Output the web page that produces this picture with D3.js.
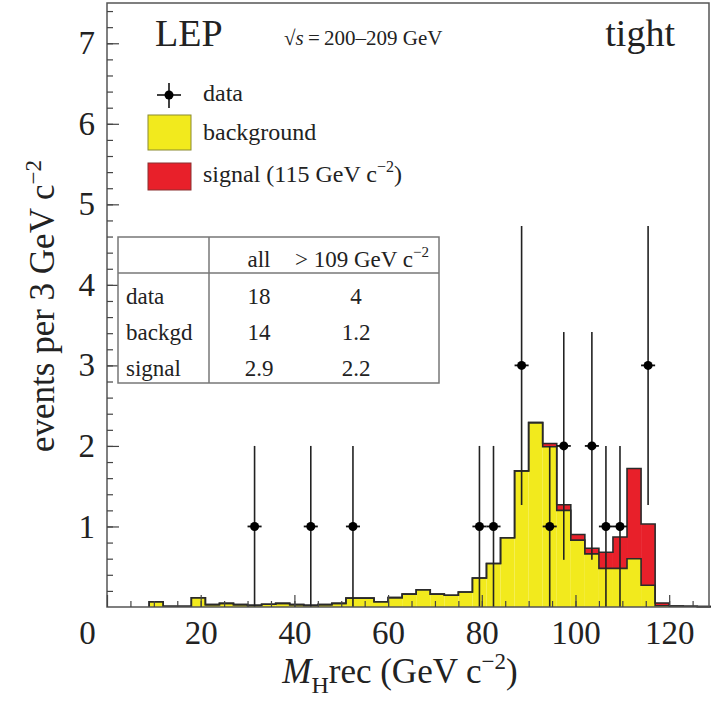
<!DOCTYPE html>
<html>
<head>
<meta charset="utf-8">
<script src="https://cdn.jsdelivr.net/npm/d3@7"></script>
<style>
  body { margin: 0; background: #fff; }
  text { font-family: "Liberation Serif", "Times New Roman", serif; fill: #222; }
</style>
</head>
<body>
<svg width="711" height="712"></svg>
<script>
// histogram binning (GeV)
var binStart = 9, binWidth = 3;

// expected background per 3 GeV bin, starting at 9 GeV
var background = [0.066, 0.01, 0.01, 0.115, 0.03, 0.045, 0.03, 0.02, 0.035, 0.045,
  0.03, 0.02, 0.03, 0.045, 0.11, 0.11, 0.066, 0.116, 0.16, 0.215,
  0.16, 0.145, 0.186, 0.36, 0.54, 0.86, 1.69, 2.29, 1.99, 1.2,
  0.83, 0.66, 0.48, 0.48, 0.60, 0.27, 0.015, 0.012, 0.01, 0.005];

// expected signal (115 GeV) per bin, same binning
var signal = [0, 0, 0, 0, 0, 0, 0, 0, 0, 0,
  0, 0, 0, 0, 0, 0, 0, 0, 0, 0,
  0, 0, 0, 0, 0, 0, 0, 0, 0.04, 0.07,
  0.07, 0.07, 0.2, 0.39, 1.12, 0.76, 0.035, 0, 0, 0];

// observed candidates
var dataMass = [31.5, 43.5, 52.5, 79.5, 82.5, 88.5, 94.5, 97.5, 103.5, 106.5, 109.5, 115.5];
var dataCounts = [1, 1, 1, 1, 1, 3, 1, 2, 2, 1, 1, 3];

var xTicks = [0, 20, 40, 60, 80, 100, 120];
var yTicks = [1, 2, 3, 4, 5, 6, 7];

// summary table
var tableRows = ["data", "backgd", "signal"];
var tableAll = ["18", "14", "2.9"];
var tableHigh = ["4", "1.2", "2.2"];

var svg = d3.select("svg");

var x = d3.scaleLinear().domain([0, 128.5]).range([107, 709]),
  y = d3.scaleLinear().domain([0, 7.5]).range([607, 3]);

// build bins
var bins = background.map(function(b, i) {
  var lo = binStart + i * binWidth;
  return { lo: lo, hi: lo + binWidth, bg: b, sig: signal[i] };
});

// yellow background
svg.append("g").selectAll("rect")
  .data(bins)
  .enter().append("rect")
  .attr("x", function(d) { return x(d.lo); })
  .attr("width", function(d) { return x(d.hi) - x(d.lo); })
  .attr("y", function(d) { return y(d.bg); })
  .attr("height", function(d) { return y(0) - y(d.bg); })
  .attr("fill", "#f2ea1d");

// red signal stacked on top
svg.append("g").selectAll("rect")
  .data(bins.filter(function(d) { return d.sig > 0; }))
  .enter().append("rect")
  .attr("x", function(d) { return x(d.lo); })
  .attr("width", function(d) { return x(d.hi) - x(d.lo); })
  .attr("y", function(d) { return y(d.bg + d.sig); })
  .attr("height", function(d) { return y(d.bg) - y(d.bg + d.sig); })
  .attr("fill", "#e8202a");

// step outlines
var step = d3.line().x(function(d) { return x(d[0]); }).y(function(d) { return y(d[1]); });
function stepPoints(acc) {
  var pts = [[bins[0].lo, 0]];
  bins.forEach(function(d) {
    pts.push([d.lo, acc(d)]);
    pts.push([d.hi, acc(d)]);
  });
  pts.push([bins[bins.length - 1].hi, 0]);
  return pts;
}
svg.append("path")
  .attr("d", step(stepPoints(function(d) { return d.bg; })))
  .attr("fill", "none").attr("stroke", "#2a2a2a").attr("stroke-width", 1.6);
svg.append("path")
  .attr("d", step(stepPoints(function(d) { return d.bg + d.sig; })))
  .attr("fill", "none").attr("stroke", "#2a2a2a").attr("stroke-width", 1.6);

// data points with sqrt(n) errors
var pts = svg.append("g").selectAll("g")
  .data(dataMass.map(function(m, i) { return { m: m, n: dataCounts[i] }; }))
  .enter().append("g");
pts.append("line")
  .attr("x1", function(d) { return x(d.m); })
  .attr("x2", function(d) { return x(d.m); })
  .attr("y1", function(d) { return y(Math.max(0, d.n - Math.sqrt(d.n))); })
  .attr("y2", function(d) { return y(d.n + Math.sqrt(d.n)); })
  .attr("stroke", "#222").attr("stroke-width", 1.6);
pts.append("line")
  .attr("x1", function(d) { return x(d.m - binWidth / 2); })
  .attr("x2", function(d) { return x(d.m + binWidth / 2); })
  .attr("y1", function(d) { return y(d.n); })
  .attr("y2", function(d) { return y(d.n); })
  .attr("stroke", "#111").attr("stroke-width", 1.8);
pts.append("circle")
  .attr("cx", function(d) { return x(d.m); })
  .attr("cy", function(d) { return y(d.n); })
  .attr("r", 4.5)
  .attr("fill", "#000");

// frame
svg.append("rect")
  .attr("x", 107).attr("y", 3)
  .attr("width", 602).attr("height", 604)
  .attr("fill", "none").attr("stroke", "#555").attr("stroke-width", 1.5);

// x axis: minor + major ticks pointing inside
svg.append("g")
  .attr("transform", "translate(0," + y(0) + ")")
  .call(d3.axisBottom(x).tickValues(d3.range(5, 128, 5)).tickSize(-6).tickFormat(""))
  .call(function(g) { g.select(".domain").remove(); });
var xAxis = svg.append("g")
  .attr("class", "axisx")
  .attr("transform", "translate(0," + y(0) + ")")
  .call(d3.axisBottom(x).tickValues(xTicks).tickSize(-12).tickPadding(14));
xAxis.select(".domain").remove();
xAxis.selectAll("text").style("font-size", "33px").attr("fill", "#222");
xAxis.selectAll(".tick")
  .filter(function(d) { return d === 0; })
  .select("text").attr("x", -20);

// y axis
svg.append("g")
  .attr("transform", "translate(" + x(0) + ",0)")
  .call(d3.axisLeft(y).tickValues(d3.range(0.2, 7.5, 0.2)).tickSize(-6).tickFormat(""))
  .call(function(g) { g.select(".domain").remove(); });
var yAxis = svg.append("g")
  .attr("class", "axisy")
  .attr("transform", "translate(" + x(0) + ",0)")
  .call(d3.axisLeft(y).tickValues(yTicks).tickSize(-12).tickPadding(12));
yAxis.select(".domain").remove();
yAxis.selectAll("text").style("font-size", "33px").attr("fill", "#222");
svg.selectAll(".tick line").attr("stroke", "#444").attr("stroke-width", 1.2);

// axis titles
var yt = svg.append("text")
  .attr("transform", "translate(54,306) rotate(-90)")
  .attr("text-anchor", "middle")
  .style("font-size", "35px");
yt.append("tspan").text("events per 3 GeV c");
yt.append("tspan").attr("dy", -13).style("font-size", "23px").text("\u22122");

var xt = svg.append("text")
  .attr("x", 400).attr("y", 683)
  .attr("text-anchor", "middle")
  .style("font-size", "35px");
xt.append("tspan").style("font-style", "italic").text("M");
xt.append("tspan").attr("dy", 10).style("font-size", "24px").text("H");
xt.append("tspan").attr("dy", -10).text("rec (GeV c");
xt.append("tspan").attr("dy", -14).style("font-size", "23px").text("\u22122");
xt.append("tspan").attr("dy", 14).text(")");

// labels at the top
svg.append("text").attr("x", 155).attr("y", 46).style("font-size", "38px").text("LEP");
var rs = svg.append("text").attr("x", 284).attr("y", 45).style("font-size", "21px");
rs.append("tspan").text("\u221A");
rs.append("tspan").style("font-style", "italic").text("s");
rs.append("tspan").text("\u2009=\u2009200\u2013209 GeV");
svg.append("text").attr("x", 675).attr("y", 46).attr("text-anchor", "end")
  .style("font-size", "38px").text("tight");

// legend
var lg = svg.append("g");
lg.append("line").attr("x1", 157).attr("x2", 181).attr("y1", 95).attr("y2", 95)
  .attr("stroke", "#111").attr("stroke-width", 1.6);
lg.append("line").attr("x1", 169).attr("x2", 169).attr("y1", 83).attr("y2", 108)
  .attr("stroke", "#111").attr("stroke-width", 1.6);
lg.append("circle").attr("cx", 169).attr("cy", 95).attr("r", 4.5).attr("fill", "#000");
lg.append("text").attr("x", 203).attr("y", 101).style("font-size", "24px").text("data");
lg.append("rect").attr("x", 148).attr("y", 115).attr("width", 43).attr("height", 35)
  .attr("fill", "#f2ea1d").attr("stroke", "#8a8a30").attr("stroke-width", 1);
lg.append("text").attr("x", 203).attr("y", 140).style("font-size", "24px").text("background");
lg.append("rect").attr("x", 148).attr("y", 163).attr("width", 43).attr("height", 27)
  .attr("fill", "#e8202a").attr("stroke", "#8a3030").attr("stroke-width", 1);
var st = lg.append("text").attr("x", 203).attr("y", 182).style("font-size", "24px");
st.append("tspan").text("signal (115 GeV c");
st.append("tspan").attr("dy", -10).style("font-size", "16px").text("\u22122");
st.append("tspan").attr("dy", 10).text(")");

// summary table
var tb = svg.append("g");
tb.append("rect").attr("x", 118).attr("y", 237).attr("width", 321).attr("height", 146)
  .attr("fill", "#fff").attr("stroke", "#777").attr("stroke-width", 1.5);
tb.append("line").attr("x1", 118).attr("x2", 439).attr("y1", 273).attr("y2", 273)
  .attr("stroke", "#777").attr("stroke-width", 1.5);
tb.append("line").attr("x1", 209).attr("x2", 209).attr("y1", 237).attr("y2", 383)
  .attr("stroke", "#777").attr("stroke-width", 1.5);
tb.append("text").attr("x", 259).attr("y", 267).attr("text-anchor", "middle")
  .style("font-size", "23px").text("all");
var hh = tb.append("text").attr("x", 295).attr("y", 267).style("font-size", "23px");
hh.append("tspan").text("> 109 GeV c");
hh.append("tspan").attr("dy", -10).style("font-size", "15px").text("\u22122");
var rowY = [304, 340, 376];
tableRows.forEach(function(r, i) {
  tb.append("text").attr("x", 126).attr("y", rowY[i]).style("font-size", "23px").text(r);
  tb.append("text").attr("x", 259).attr("y", rowY[i]).attr("text-anchor", "middle")
    .style("font-size", "23px").text(tableAll[i]);
  tb.append("text").attr("x", 356).attr("y", rowY[i]).attr("text-anchor", "middle")
    .style("font-size", "23px").text(tableHigh[i]);
});
</script>
</body>
</html>
